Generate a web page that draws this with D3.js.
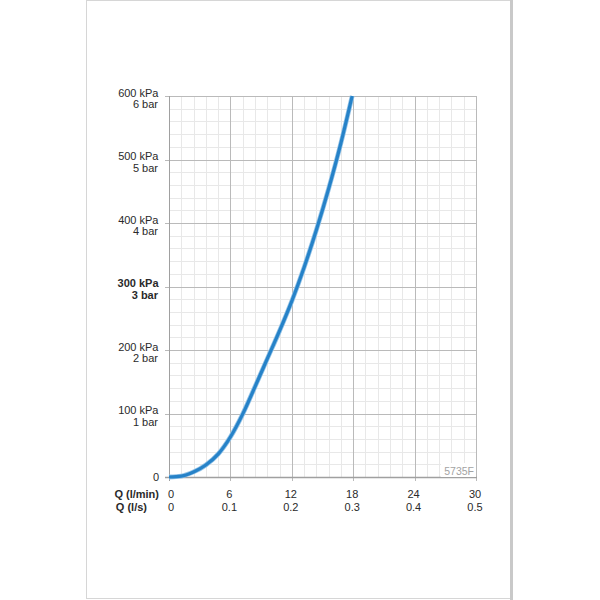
<!DOCTYPE html>
<html>
<head>
<meta charset="utf-8">
<script src="https://cdn.jsdelivr.net/npm/d3@7"></script>
<style>
  html, body { margin: 0; padding: 0; background: #fff; }
  svg { display: block; font-family: "Liberation Sans", Arial, Helvetica, sans-serif; }
</style>
</head>
<body>
<div id="dataviz"></div>
<script>
// data: flow (l/min) vs pressure loss (kPa)
var flowLpm     = [0, 1.2, 2.4, 3.6, 4.8, 6, 7.2, 8.4, 9.6, 10.8, 12, 13.2, 14.4, 15.6, 16.8, 17.9];
var pressureKpa = [0, 1.5, 8, 19, 36, 63, 99, 142, 186, 230, 277, 330, 389, 454, 526, 600];

// axis ticks and labels
var yTicks   = [0, 100, 200, 300, 400, 500, 600];
var yKpa     = ["0", "100 kPa", "200 kPa", "300 kPa", "400 kPa", "500 kPa", "600 kPa"];
var yBar     = ["", "1 bar", "2 bar", "3 bar", "4 bar", "5 bar", "6 bar"];
var xTicks   = [0, 6, 12, 18, 24, 30];
var xLs      = ["0", "0.1", "0.2", "0.3", "0.4", "0.5"];
var boldTick = 300;
var code     = "5735F";

var W = 600, H = 600;
var plotL = 169, plotR = 476, plotT = 96, plotB = 477;

var svg = d3.select("#dataviz").append("svg")
    .attr("width", W)
    .attr("height", H);

// page sheet
svg.append("rect")
    .attr("x", 86.5).attr("y", 0.5)
    .attr("width", 424).attr("height", 598)
    .attr("fill", "#fff")
    .attr("stroke", "#d6d6d6");
svg.append("rect")
    .attr("x", 510).attr("y", 0)
    .attr("width", 3).attr("height", 600)
    .attr("fill", "#c9c9c9");

var x = d3.scaleLinear().domain([0, 30]).range([plotL, plotR]);
var y = d3.scaleLinear().domain([0, 600]).range([plotB, plotT]);

// minor grid
var g = svg.append("g");
g.selectAll(".vminor").data(d3.range(0, 30.01, 1.2)).enter().append("line")
    .attr("x1", d => Math.round(x(d)) + 0.5).attr("x2", d => Math.round(x(d)) + 0.5)
    .attr("y1", plotT).attr("y2", plotB)
    .attr("stroke", "#e8e8e8");
g.selectAll(".hminor").data(d3.range(0, 600.1, 20)).enter().append("line")
    .attr("y1", d => Math.round(y(d)) + 0.5).attr("y2", d => Math.round(y(d)) + 0.5)
    .attr("x1", plotL).attr("x2", plotR)
    .attr("stroke", "#e8e8e8");

// major grid
g.selectAll(".vmajor").data(xTicks).enter().append("line")
    .attr("x1", d => Math.round(x(d)) + 0.5).attr("x2", d => Math.round(x(d)) + 0.5)
    .attr("y1", plotT).attr("y2", plotB + 4)
    .attr("stroke", "#bababa");
g.selectAll(".hmajor").data(yTicks).enter().append("line")
    .attr("y1", d => Math.round(y(d)) + 0.5).attr("y2", d => Math.round(y(d)) + 0.5)
    .attr("x1", plotL - 4).attr("x2", plotR)
    .attr("stroke", "#bababa");

// axes lines
svg.append("line")
    .attr("x1", plotL + 0.5).attr("x2", plotL + 0.5)
    .attr("y1", plotT).attr("y2", plotB + 4)
    .attr("stroke", "#a0a0a0");
svg.append("line")
    .attr("x1", plotL - 4).attr("x2", plotR + 1)
    .attr("y1", plotB + 0.5).attr("y2", plotB + 0.5)
    .attr("stroke", "#a0a0a0").attr("stroke-width", 1.3);

// code label box
svg.append("rect")
    .attr("x", 441).attr("y", 463)
    .attr("width", plotR - 441).attr("height", plotB - 463)
    .attr("fill", "#fff");
svg.append("text")
    .attr("x", plotR - 2).attr("y", 475)
    .attr("text-anchor", "end")
    .attr("font-size", 10.5)
    .attr("fill", "#a3a3a3")
    .text(code);

// curve
var pts = flowLpm.map((q, i) => ({ q: q, p: pressureKpa[i] }));
var line = d3.line().x(d => x(d.q)).y(d => y(d.p)).curve(d3.curveMonotoneX);
svg.append("path").datum(pts)
    .attr("d", line)
    .attr("fill", "none")
    .attr("stroke", "#94c3e7")
    .attr("stroke-width", 4.8);
svg.append("path").datum(pts)
    .attr("d", line)
    .attr("fill", "none")
    .attr("stroke", "#2682c8")
    .attr("stroke-width", 3.2);

// y labels
var yl = svg.append("g").attr("font-size", 11).attr("fill", "#2a2a2a").attr("text-anchor", "end");
yTicks.forEach(function(t, i) {
    var bold = t === boldTick ? "bold" : "normal";
    if (yBar[i] === "") {
        yl.append("text").attr("x", 159).attr("y", y(t) + 4).text(yKpa[i]);
    } else {
        yl.append("text").attr("x", 158.5).attr("y", y(t) + 0.5)
            .attr("font-weight", bold).text(yKpa[i]);
        yl.append("text").attr("x", 158).attr("y", y(t) + 12)
            .attr("font-weight", bold).text(yBar[i]);
    }
});

// x labels
var xl = svg.append("g").attr("font-size", 11).attr("fill", "#2a2a2a");
xl.append("text").attr("x", 159).attr("y", 498).attr("text-anchor", "end")
    .attr("font-weight", "bold").text("Q (l/min)");
xl.append("text").attr("x", 147).attr("y", 511).attr("text-anchor", "end")
    .attr("font-weight", "bold").text("Q (l/s)");
xTicks.forEach(function(t, i) {
    xl.append("text").attr("x", x(t) + (t === 0 ? 2 : -1)).attr("y", 498)
        .attr("text-anchor", "middle").text(t);
    xl.append("text").attr("x", x(t) + (t === 0 ? 2 : -1)).attr("y", 511)
        .attr("text-anchor", "middle").text(xLs[i]);
});
</script>
</body>
</html>
